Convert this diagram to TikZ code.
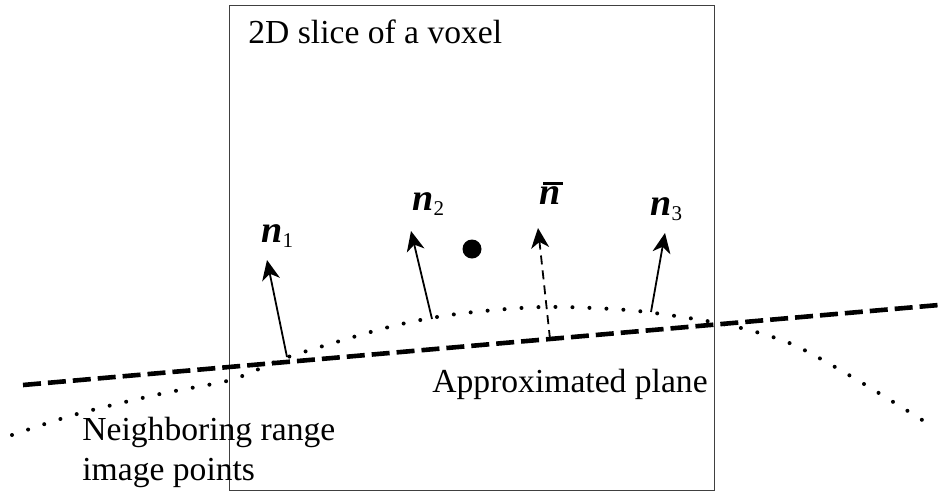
\documentclass[tikz,border=0pt]{standalone}
\usepackage{fontspec}
\setmainfont{Liberation Serif}
\usetikzlibrary{arrows.meta}

\newcommand{\vecn}{{\fontsize{19}{20}\selectfont\bfseries\itshape n}}
\newcommand{\nsub}[1]{\raisebox{-2.5pt}{\fontsize{10.5}{10}\selectfont #1}}

\begin{document}
\begin{tikzpicture}[
  x=0.5pt, y=-0.5pt,
  every node/.style={font=\fontsize{16.8}{20}\selectfont, inner sep=0pt},
  voxel/.style={draw=black!75, line width=0.5pt},
  normal/.style={-{Stealth[length=10pt, width=9pt, inset=3pt]}, line width=0.9pt},
  meannormal/.style={normal, dash pattern=on 4.5pt off 3pt},
  plane/.style={line width=2.3pt, dash pattern=on 9pt off 3.5pt},
  pointrow/.style={line width=2pt, line cap=round, dash pattern=on 0pt off 8.5pt}
]

\useasboundingbox (0,0) rectangle (939,494);

% voxel slice
\draw[voxel] (229,5) rectangle (714,490);
\node[anchor=base west] (slice) at (248,43) {2D slice of a voxel};

% range image points and fitted plane
\draw[pointrow] plot[smooth, tension=0.5] coordinates {(12,435) (77,414) (160,394) (227,381) (259,369) (291,356) (389,327) (457,314) (542,307) (627,310) (695,319) (745,329) (794,345) (854,378) (927,423)};
\draw[plane] (23,385) -- (939,305);

% centre of the voxel
\node[circle, fill, minimum size=9.5pt] (centre) at (472,249) {};

% normals
\coordinate (b1) at (287,357);
\coordinate (t1) at (267,260);
\coordinate (b2) at (432,319);
\coordinate (t2) at (411,231);
\coordinate (bm) at (550,339);
\coordinate (tm) at (538,228);
\coordinate (b3) at (651,312);
\coordinate (t3) at (665,233);

\draw[normal] (b1) -- (t1);
\draw[normal] (b2) -- (t2);
\draw[meannormal] (bm) -- (tm);
\draw[normal] (b3) -- (t3);

\node[anchor=base west] (n1) at (261,242) {\vecn\nsub{1}};
\node[anchor=base west] (n2) at (412,210) {\vecn\nsub{2}};
\node[anchor=base west] (nm) at (539,204) {\rlap{\hspace{2pt}\rule[9.5pt]{10pt}{1.6pt}}\vecn};
\node[anchor=base west] (n3) at (650,215) {\vecn\nsub{3}};

% labels
\node[anchor=base west] (plabel) at (432,392) {Approximated plane};
\node[anchor=base west] (rlabel) at (82,440) {Neighboring range};
\node[anchor=base west] (rlabel2) at (82,480) {image points};

\end{tikzpicture}
\end{document}
